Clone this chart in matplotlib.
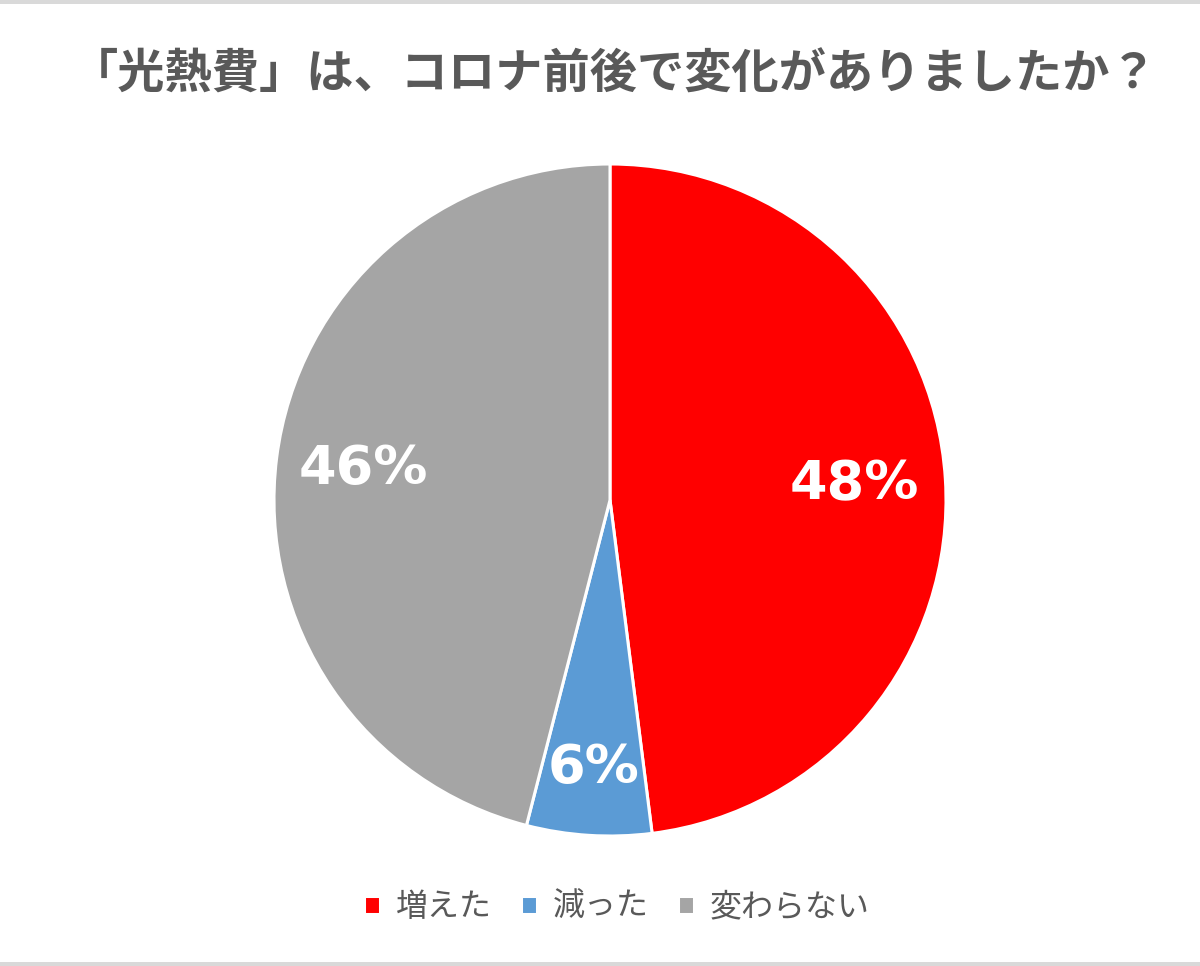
import numpy as np
import matplotlib
matplotlib.use("Agg")
import matplotlib.pyplot as plt
from matplotlib.patches import Rectangle

plt.rcParams['font.family'] = ['Noto Sans CJK JP', 'DejaVu Sans']

title = "「光熱費」は、コロナ前後で変化がありましたか？"
categories = ["増えた", "減った", "変わらない"]
values = [48, 6, 46]
colors = ["#FF0000", "#5B9BD5", "#A5A5A5"]
pct_labels = ["48%", "6%", "46%"]

fig = plt.figure(figsize=(12, 9.66), dpi=100)
fig.patch.set_facecolor("white")

# top/bottom frame lines
fig.add_artist(Rectangle((0, 1 - 4/966), 1, 4/966, transform=fig.transFigure,
                         facecolor="#D9D9D9", edgecolor="none"))
fig.add_artist(Rectangle((0, 0), 1, 4/966, transform=fig.transFigure,
                         facecolor="#D9D9D9", edgecolor="none"))

ax = fig.add_axes([(610 - 336) / 1200, (966 - 836) / 966, 672 / 1200, 672 / 966])
wedges, _ = ax.pie(values, colors=colors, startangle=90, counterclock=False,
                   radius=1.0,
                   wedgeprops=dict(edgecolor="white", linewidth=2.2))
ax.set_xlim(-1, 1)
ax.set_ylim(-1, 1)
ax.set_aspect("equal")
ax.axis("off")

dists = [0.73, 0.80, 0.74]
for w, lab, d in zip(wedges, pct_labels, dists):
    ang = np.deg2rad((w.theta1 + w.theta2) / 2)
    ax.text(d * np.cos(ang), d * np.sin(ang), lab, ha="center", va="center",
            color="white", fontsize=39, fontweight="bold", family="DejaVu Sans")

fig.text(614 / 1200, 1 - 75 / 966, title, ha="center", va="center",
         fontsize=34, fontweight="bold", color="#595959")

fig.legend(wedges, categories, loc="center", bbox_to_anchor=(617 / 1200, 1 - 907 / 966),
           ncol=3, frameon=False, fontsize=23, labelcolor="#595959",
           handlelength=0.5, handleheight=0.5, handletextpad=0.5, columnspacing=0.9)

fig.savefig("out.png", dpi=100, facecolor="white")
